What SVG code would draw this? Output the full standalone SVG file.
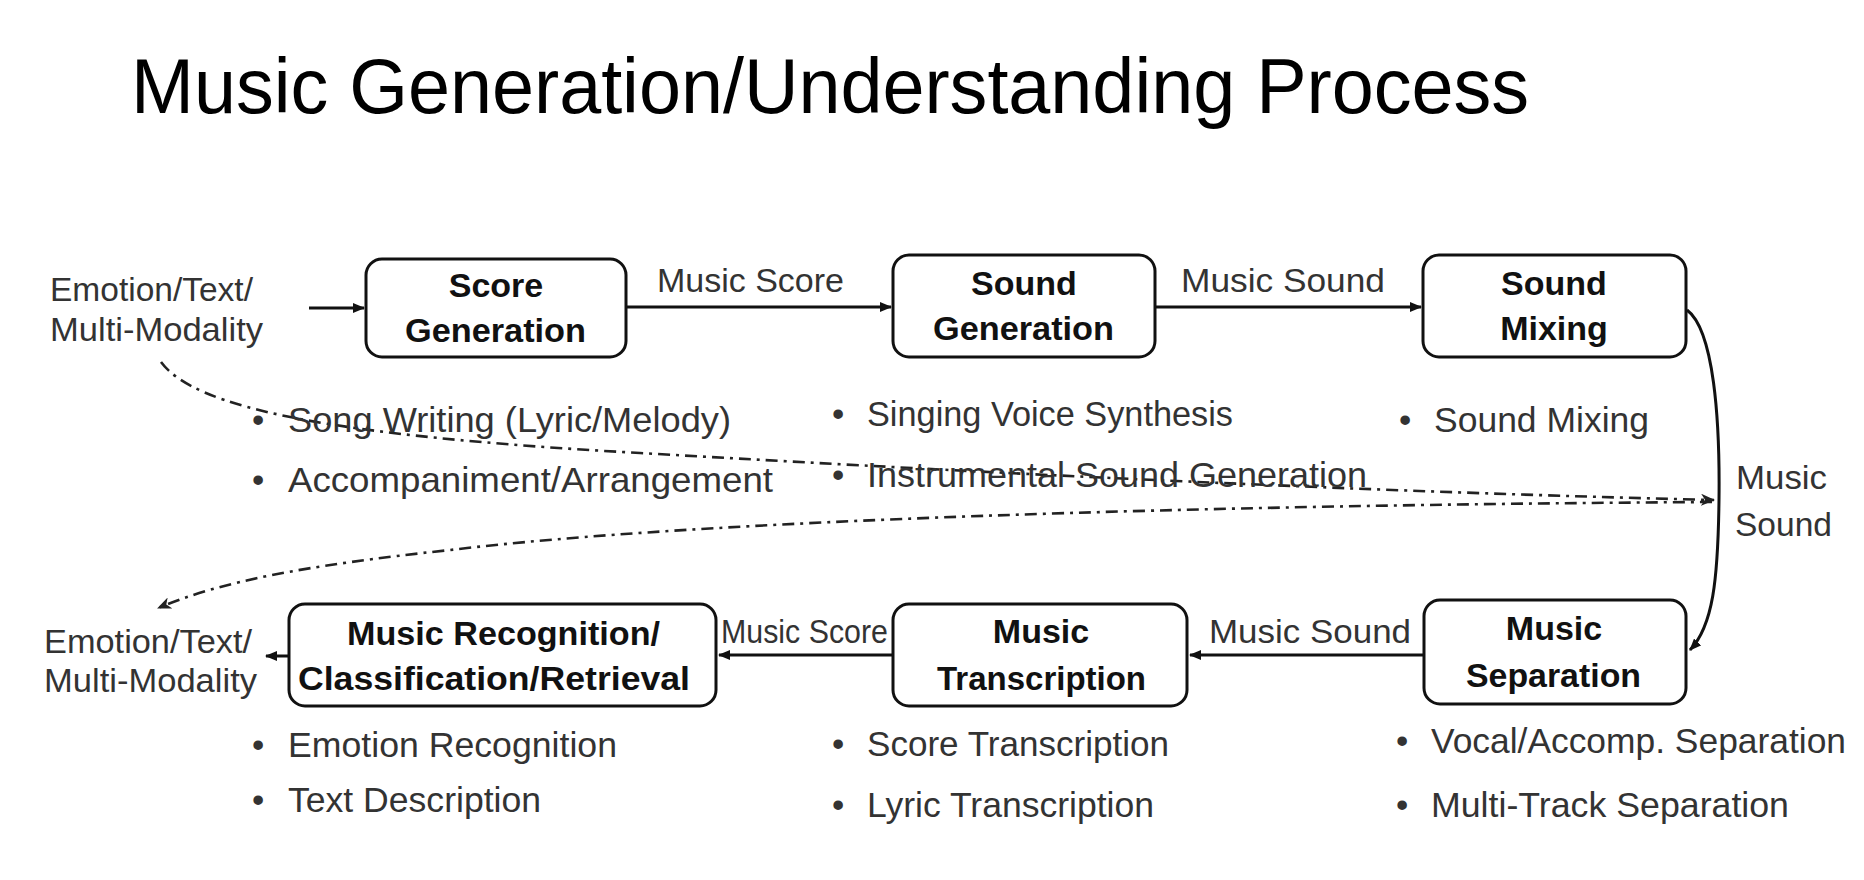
<svg xmlns="http://www.w3.org/2000/svg" width="1864" height="880" viewBox="0 0 1864 880">
<style>
.bg{fill:#ffffff}
.box{fill:#ffffff;stroke:#111;stroke-width:3;}
.bl{font-family:"Liberation Sans",Arial,sans-serif;font-weight:bold;font-size:34px;fill:#111}
.lb{font-family:"Liberation Sans",Arial,sans-serif;font-size:34px;fill:#333}
.bu{font-family:"Liberation Sans",Arial,sans-serif;font-size:35px;fill:#333}
.title{font-family:"Liberation Sans",Arial,sans-serif;font-size:78px;fill:#000}
.ar{fill:none;stroke:#111;stroke-width:3}
.dd{fill:none;stroke:#222;stroke-width:2.6;stroke-dasharray:12 6 3 6}
</style>
<defs>
<marker id="ah" markerUnits="userSpaceOnUse" markerWidth="12" markerHeight="10" refX="11" refY="5" orient="auto">
<path d="M0,0 L12,5 L0,10 z" fill="#111"/>
</marker>
<marker id="ahd" markerUnits="userSpaceOnUse" markerWidth="14" markerHeight="12" refX="13" refY="6" orient="auto">
<path d="M0,0 L14,6 L0,12 L4,6 z" fill="#222"/>
</marker>
</defs>
<rect class="bg" x="0" y="0" width="1864" height="880"/>
<text class="title" x="131" y="113" textLength="1398" lengthAdjust="spacingAndGlyphs">Music Generation/Understanding Process</text>

<g id="connectors">
<path class="ar" d="M309,308 H364" marker-end="url(#ah)"/>
<path class="ar" d="M626,307 H891" marker-end="url(#ah)"/>
<path class="ar" d="M1155,307 H1421" marker-end="url(#ah)"/>
<path class="ar" d="M1687,310 C1714,330 1720,420 1719,500 C1718,580 1713,626 1690,650" marker-end="url(#ah)"/>
<path class="ar" d="M1423,655 H1190" marker-end="url(#ah)"/>
<path class="ar" d="M893,655 H719" marker-end="url(#ah)"/>
<path class="ar" d="M289,656 H266" marker-end="url(#ah)"/>
<path class="dd" d="M161,362 C195,408 330,436 640,453 C900,468 1300,490 1714,500" marker-end="url(#ahd)"/>
<path class="dd" d="M1712,502 C1200,505 700,520 450,550 C300,566 220,582 158,608" marker-end="url(#ahd)"/>
<text class="lb" x="657" y="292" textLength="187" lengthAdjust="spacingAndGlyphs">Music Score</text>
<text class="lb" x="1181" y="292" textLength="204" lengthAdjust="spacingAndGlyphs">Music Sound</text>
<text class="lb" x="1736" y="489" textLength="91" lengthAdjust="spacingAndGlyphs">Music</text>
<text class="lb" x="1735" y="536" textLength="97" lengthAdjust="spacingAndGlyphs">Sound</text>
<text class="lb" x="1209" y="643" textLength="202" lengthAdjust="spacingAndGlyphs">Music Sound</text>
<text class="lb" x="721" y="643" textLength="167" lengthAdjust="spacingAndGlyphs">Music Score</text>
</g>

<g id="input-top">
<text class="lb" x="50" y="301" textLength="203" lengthAdjust="spacingAndGlyphs">Emotion/Text/</text>
<text class="lb" x="50" y="341" textLength="213" lengthAdjust="spacingAndGlyphs">Multi-Modality</text>
</g>

<g id="score-generation">
<rect class="box" x="366" y="259" width="260" height="98" rx="16"/>
<text class="bl" x="496" y="297" text-anchor="middle">Score</text>
<text class="bl" x="405" y="342" textLength="181" lengthAdjust="spacingAndGlyphs">Generation</text>
<text class="bu" x="252" y="432">•</text>
<text class="bu" x="288" y="432" textLength="443" lengthAdjust="spacingAndGlyphs">Song Writing (Lyric/Melody)</text>
<text class="bu" x="252" y="492">•</text>
<text class="bu" x="288" y="492" textLength="485" lengthAdjust="spacingAndGlyphs">Accompaniment/Arrangement</text>
</g>

<g id="sound-generation">
<rect class="box" x="893" y="255" width="262" height="102" rx="16"/>
<text class="bl" x="1024" y="295" text-anchor="middle">Sound</text>
<text class="bl" x="933" y="340" textLength="181" lengthAdjust="spacingAndGlyphs">Generation</text>
<text class="bu" x="832" y="426">•</text>
<text class="bu" x="867" y="426" textLength="366" lengthAdjust="spacingAndGlyphs">Singing Voice Synthesis</text>
<text class="bu" x="832" y="487">•</text>
<text class="bu" x="867" y="487" textLength="500" lengthAdjust="spacingAndGlyphs">Instrumental Sound Generation</text>
</g>

<g id="sound-mixing">
<rect class="box" x="1423" y="255" width="263" height="102" rx="16"/>
<text class="bl" x="1554" y="295" text-anchor="middle">Sound</text>
<text class="bl" x="1554" y="340" text-anchor="middle">Mixing</text>
<text class="bu" x="1399" y="432">•</text>
<text class="bu" x="1434" y="432" textLength="215" lengthAdjust="spacingAndGlyphs">Sound Mixing</text>
</g>

<g id="music-separation">
<rect class="box" x="1424" y="600" width="262" height="104" rx="16"/>
<text class="bl" x="1554" y="640" text-anchor="middle">Music</text>
<text class="bl" x="1466" y="687" textLength="175" lengthAdjust="spacingAndGlyphs">Separation</text>
<text class="bu" x="1396" y="753">•</text>
<text class="bu" x="1431" y="753" textLength="415" lengthAdjust="spacingAndGlyphs">Vocal/Accomp. Separation</text>
<text class="bu" x="1396" y="817">•</text>
<text class="bu" x="1431" y="817" textLength="358" lengthAdjust="spacingAndGlyphs">Multi-Track Separation</text>
</g>

<g id="music-transcription">
<rect class="box" x="893" y="604" width="294" height="102" rx="16"/>
<text class="bl" x="1041" y="643" text-anchor="middle">Music</text>
<text class="bl" x="937" y="690" textLength="209" lengthAdjust="spacingAndGlyphs">Transcription</text>
<text class="bu" x="832" y="756">•</text>
<text class="bu" x="867" y="756" textLength="302" lengthAdjust="spacingAndGlyphs">Score Transcription</text>
<text class="bu" x="832" y="817">•</text>
<text class="bu" x="867" y="817" textLength="287" lengthAdjust="spacingAndGlyphs">Lyric Transcription</text>
</g>

<g id="music-recognition">
<rect class="box" x="289" y="604" width="427" height="102" rx="16"/>
<text class="bl" x="347" y="645" textLength="313" lengthAdjust="spacingAndGlyphs">Music Recognition/</text>
<text class="bl" x="298" y="690" textLength="392" lengthAdjust="spacingAndGlyphs">Classification/Retrieval</text>
<text class="bu" x="252" y="757">•</text>
<text class="bu" x="288" y="757" textLength="329" lengthAdjust="spacingAndGlyphs">Emotion Recognition</text>
<text class="bu" x="252" y="812">•</text>
<text class="bu" x="288" y="812" textLength="253" lengthAdjust="spacingAndGlyphs">Text Description</text>
</g>

<g id="output-bottom">
<text class="lb" x="44" y="653" textLength="208" lengthAdjust="spacingAndGlyphs">Emotion/Text/</text>
<text class="lb" x="44" y="692" textLength="213" lengthAdjust="spacingAndGlyphs">Multi-Modality</text>
</g>
</svg>
